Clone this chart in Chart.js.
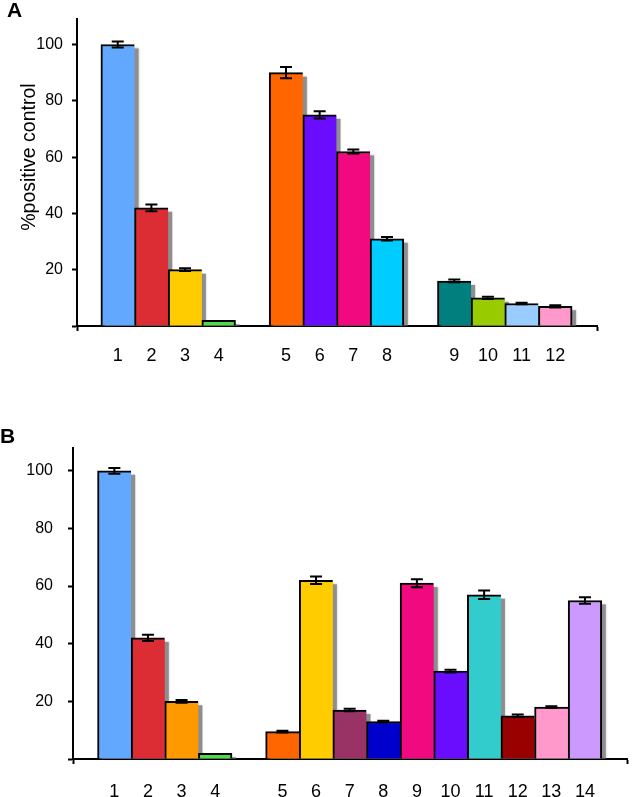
<!DOCTYPE html>
<html lang="en">
<head>
<meta charset="UTF-8" />
<title>Bar charts A and B</title>
<style>
    body {
        margin: 0;
        background: #fff;
        width: 644px;
        height: 797px;
        overflow: hidden;
        position: relative;
        font-family: 'Liberation Sans', Arial, sans-serif;
    }
    .panel { position: absolute; left: 0; width: 644px; }
    #panelA { top: 0; height: 380px; }
    #panelB { top: 380px; height: 417px; }
    .letter {
        position: absolute;
        z-index: 2;
        font-weight: bold;
        font-size: 21px;
        line-height: 21px;
    }
</style>
</head>
<body>
<div class="panel" id="panelA"><canvas id="chartA" width="644" height="380"></canvas></div>
<div class="panel" id="panelB"><canvas id="chartB" width="644" height="417"></canvas></div>
<div class="letter" style="left:7px; top:-1px;">A</div>
<div class="letter" style="left:0px; top:425px;">B</div>

<script src="https://cdn.jsdelivr.net/npm/chart.js"></script>
<script>
// data (null = empty slot between groups)
const catsA = ['1', '2', '3', '4', null, '5', '6', '7', '8', null, '9', '10', '11', '12'];
const valsA = [100, 42, 20, 2, null, 90, 75, 62, 31, null, 16, 10, 8, 7];
const errsA = [1.1, 1.2, 0.5, 0, null, 2, 1.3, 0.7, 0.6, null, 0.5, 0.4, 0.3, 0.4];
const colorsA = ['#62a8ff', '#dc2d35', '#ffcc00', '#4ddb4d', null, '#ff6600', '#6a0dff', '#f0097f', '#00ccff', null,
                 '#007f7f', '#99cc00', '#99ccff', '#ff99cc'];

const catsB = ['1', '2', '3', '4', null, '5', '6', '7', '8', '9', '10', '11', '12', '13', '14'];
const valsB = [100, 42, 20, 2, null, 9.5, 62, 17, 13, 61, 30.5, 57, 15, 18, 55];
const errsB = [1, 1.1, 0.5, 0, null, 0.3, 1.3, 0.4, 0.3, 1.4, 0.5, 1.5, 0.4, 0.3, 1.1];
const colorsB = ['#62a8ff', '#dc2d35', '#ff9900', '#4ddb4d', null, '#ff6600', '#ffcc00', '#993366', '#0000cc',
                 '#f0097f', '#6a0dff', '#33cccc', '#990000', '#ff99cc', '#cc99ff'];

const yTicks = [0, 20, 40, 60, 80, 100];

// grey drop shadow behind each bar
const shadowPlugin = {
    id: 'shadow',
    beforeDatasetsDraw(chart) {
        const ctx = chart.ctx;
        const meta = chart.getDatasetMeta(0);
        ctx.save();
        ctx.fillStyle = '#8e8e8e';
        ctx.shadowColor = 'rgba(0,0,0,0.25)';
        ctx.shadowBlur = 2;
        meta.data.forEach(bar => {
            const {x, y, base, width} = bar.getProps(['x', 'y', 'base', 'width'], true);
            ctx.fillRect(x - width / 2 + 4, y + 4, width, base - y - 4);
        });
        ctx.restore();
    }
};

// error bars with caps
const errorPlugin = {
    id: 'errors',
    afterDatasetsDraw(chart) {
        const ctx = chart.ctx;
        const ys = chart.scales.y;
        const meta = chart.getDatasetMeta(0);
        const pts = chart.data.datasets[0].data;
        ctx.save();
        ctx.strokeStyle = '#000';
        ctx.lineWidth = 2;
        meta.data.forEach((bar, i) => {
            const e = pts[i].err;
            if (!e) return;
            const v = pts[i].y;
            const top = ys.getPixelForValue(v + e);
            const bot = ys.getPixelForValue(v - e);
            ctx.beginPath();
            ctx.moveTo(bar.x, top); ctx.lineTo(bar.x, bot);
            ctx.moveTo(bar.x - 6, top); ctx.lineTo(bar.x + 6, top);
            ctx.moveTo(bar.x - 6, bot); ctx.lineTo(bar.x + 6, bot);
            ctx.stroke();
        });
        ctx.restore();
    }
};

// rotated y title for panel A
const titlePlugin = {
    id: 'ytitle',
    afterDraw(chart, args, opts) {
        if (!opts.text) return;
        const ctx = chart.ctx;
        ctx.save();
        ctx.translate(opts.x, chart.scales.y.getPixelForValue(opts.atValue));
        ctx.rotate(-Math.PI / 2);
        ctx.font = opts.size + "px 'Liberation Sans', Arial, sans-serif";
        ctx.fillStyle = '#000';
        ctx.textAlign = 'center';
        ctx.textBaseline = 'alphabetic';
        ctx.fillText(opts.text, 0, 0);
        ctx.restore();
    }
};

function makeChart(id, cats, vals, errs, colors, g) {
    const points = [];
    const barColors = [];
    cats.forEach((c, i) => {
        if (c === null) return;
        points.push({x: i, y: vals[i], err: errs[i]});
        barColors.push(colors[i]);
    });
    const positions = points.map(p => p.x);
    const canvas = document.getElementById(id);

    return new Chart(canvas.getContext('2d'), {
        type: 'bar',
        data: {
            datasets: [{
                data: points,
                backgroundColor: barColors,
                borderColor: '#000',
                borderWidth: ctx => {
                    const p = points[ctx.dataIndex];
                    const lastInGroup = !p || cats[p.x + 1] == null;
                    return {top: 2, left: 2, right: lastInGroup ? 2 : 0, bottom: 0};
                },
                borderSkipped: false,
                categoryPercentage: 1,
                barPercentage: 1
            }]
        },
        options: {
            responsive: false,
            animation: false,
            layout: {padding: {top: g.top, right: canvas.width - g.right, left: 0, bottom: 0}},
            plugins: {
                legend: {display: false},
                tooltip: {enabled: false},
                ytitle: g.title
            },
            scales: {
                x: {
                    type: 'linear',
                    offset: false,
                    min: g.xmin,
                    max: g.xmax,
                    afterBuildTicks: s => {
                        s.ticks = [g.xmin, ...positions, g.xmax].map(v => ({value: v}));
                    },
                    afterFit: s => { s.height = canvas.height - g.base; },
                    ticks: {
                        autoSkip: false,
                        maxRotation: 0,
                        color: '#000',
                        padding: g.xpad,
                        font: {family: "'Liberation Sans', Arial, sans-serif", size: 18},
                        callback: v => cats[v] || ''
                    },
                    grid: {
                        display: true,
                        offset: false,
                        drawOnChartArea: false,
                        tickLength: 5,
                        tickWidth: 2,
                        color: c => (c.tick && (c.tick.value === g.xmin || c.tick.value === g.xmax)) ? '#000' : 'rgba(0,0,0,0)'
                    },
                    border: {display: true, color: '#000', width: 2}
                },
                y: {
                    min: 0,
                    max: g.ymax,
                    afterBuildTicks: s => { s.ticks = yTicks.map(v => ({value: v})); },
                    afterFit: s => { s.width = g.axisX; },
                    ticks: {
                        color: '#000',
                        padding: g.ypad,
                        font: {family: "'Liberation Sans', Arial, sans-serif", size: 16},
                        callback: v => v === 0 ? '' : v
                    },
                    grid: {
                        display: true,
                        drawOnChartArea: false,
                        tickLength: 5,
                        tickWidth: 2,
                        color: '#000'
                    },
                    border: {display: true, color: '#000', width: 2}
                }
            }
        },
        plugins: [shadowPlugin, errorPlugin, titlePlugin]
    });
}

makeChart('chartA', catsA, valsA, errsA, colorsA, {
    axisX: 77, right: 597, top: 18, base: 326, ymax: 109.2,
    xmin: -1.21, xmax: 14.24, xpad: 14, ypad: 9,
    title: {text: '%positive control', x: 35, atValue: 60, size: 19.5}
});

makeChart('chartB', catsB, valsB, errsB, colorsB, {
    axisX: 73, right: 643, top: 68, base: 379, ymax: 107.9,
    xmin: -1.23, xmax: 15.25, xpad: 17, ypad: 15,
    title: {text: ''}
});
</script>
</body>
</html>
